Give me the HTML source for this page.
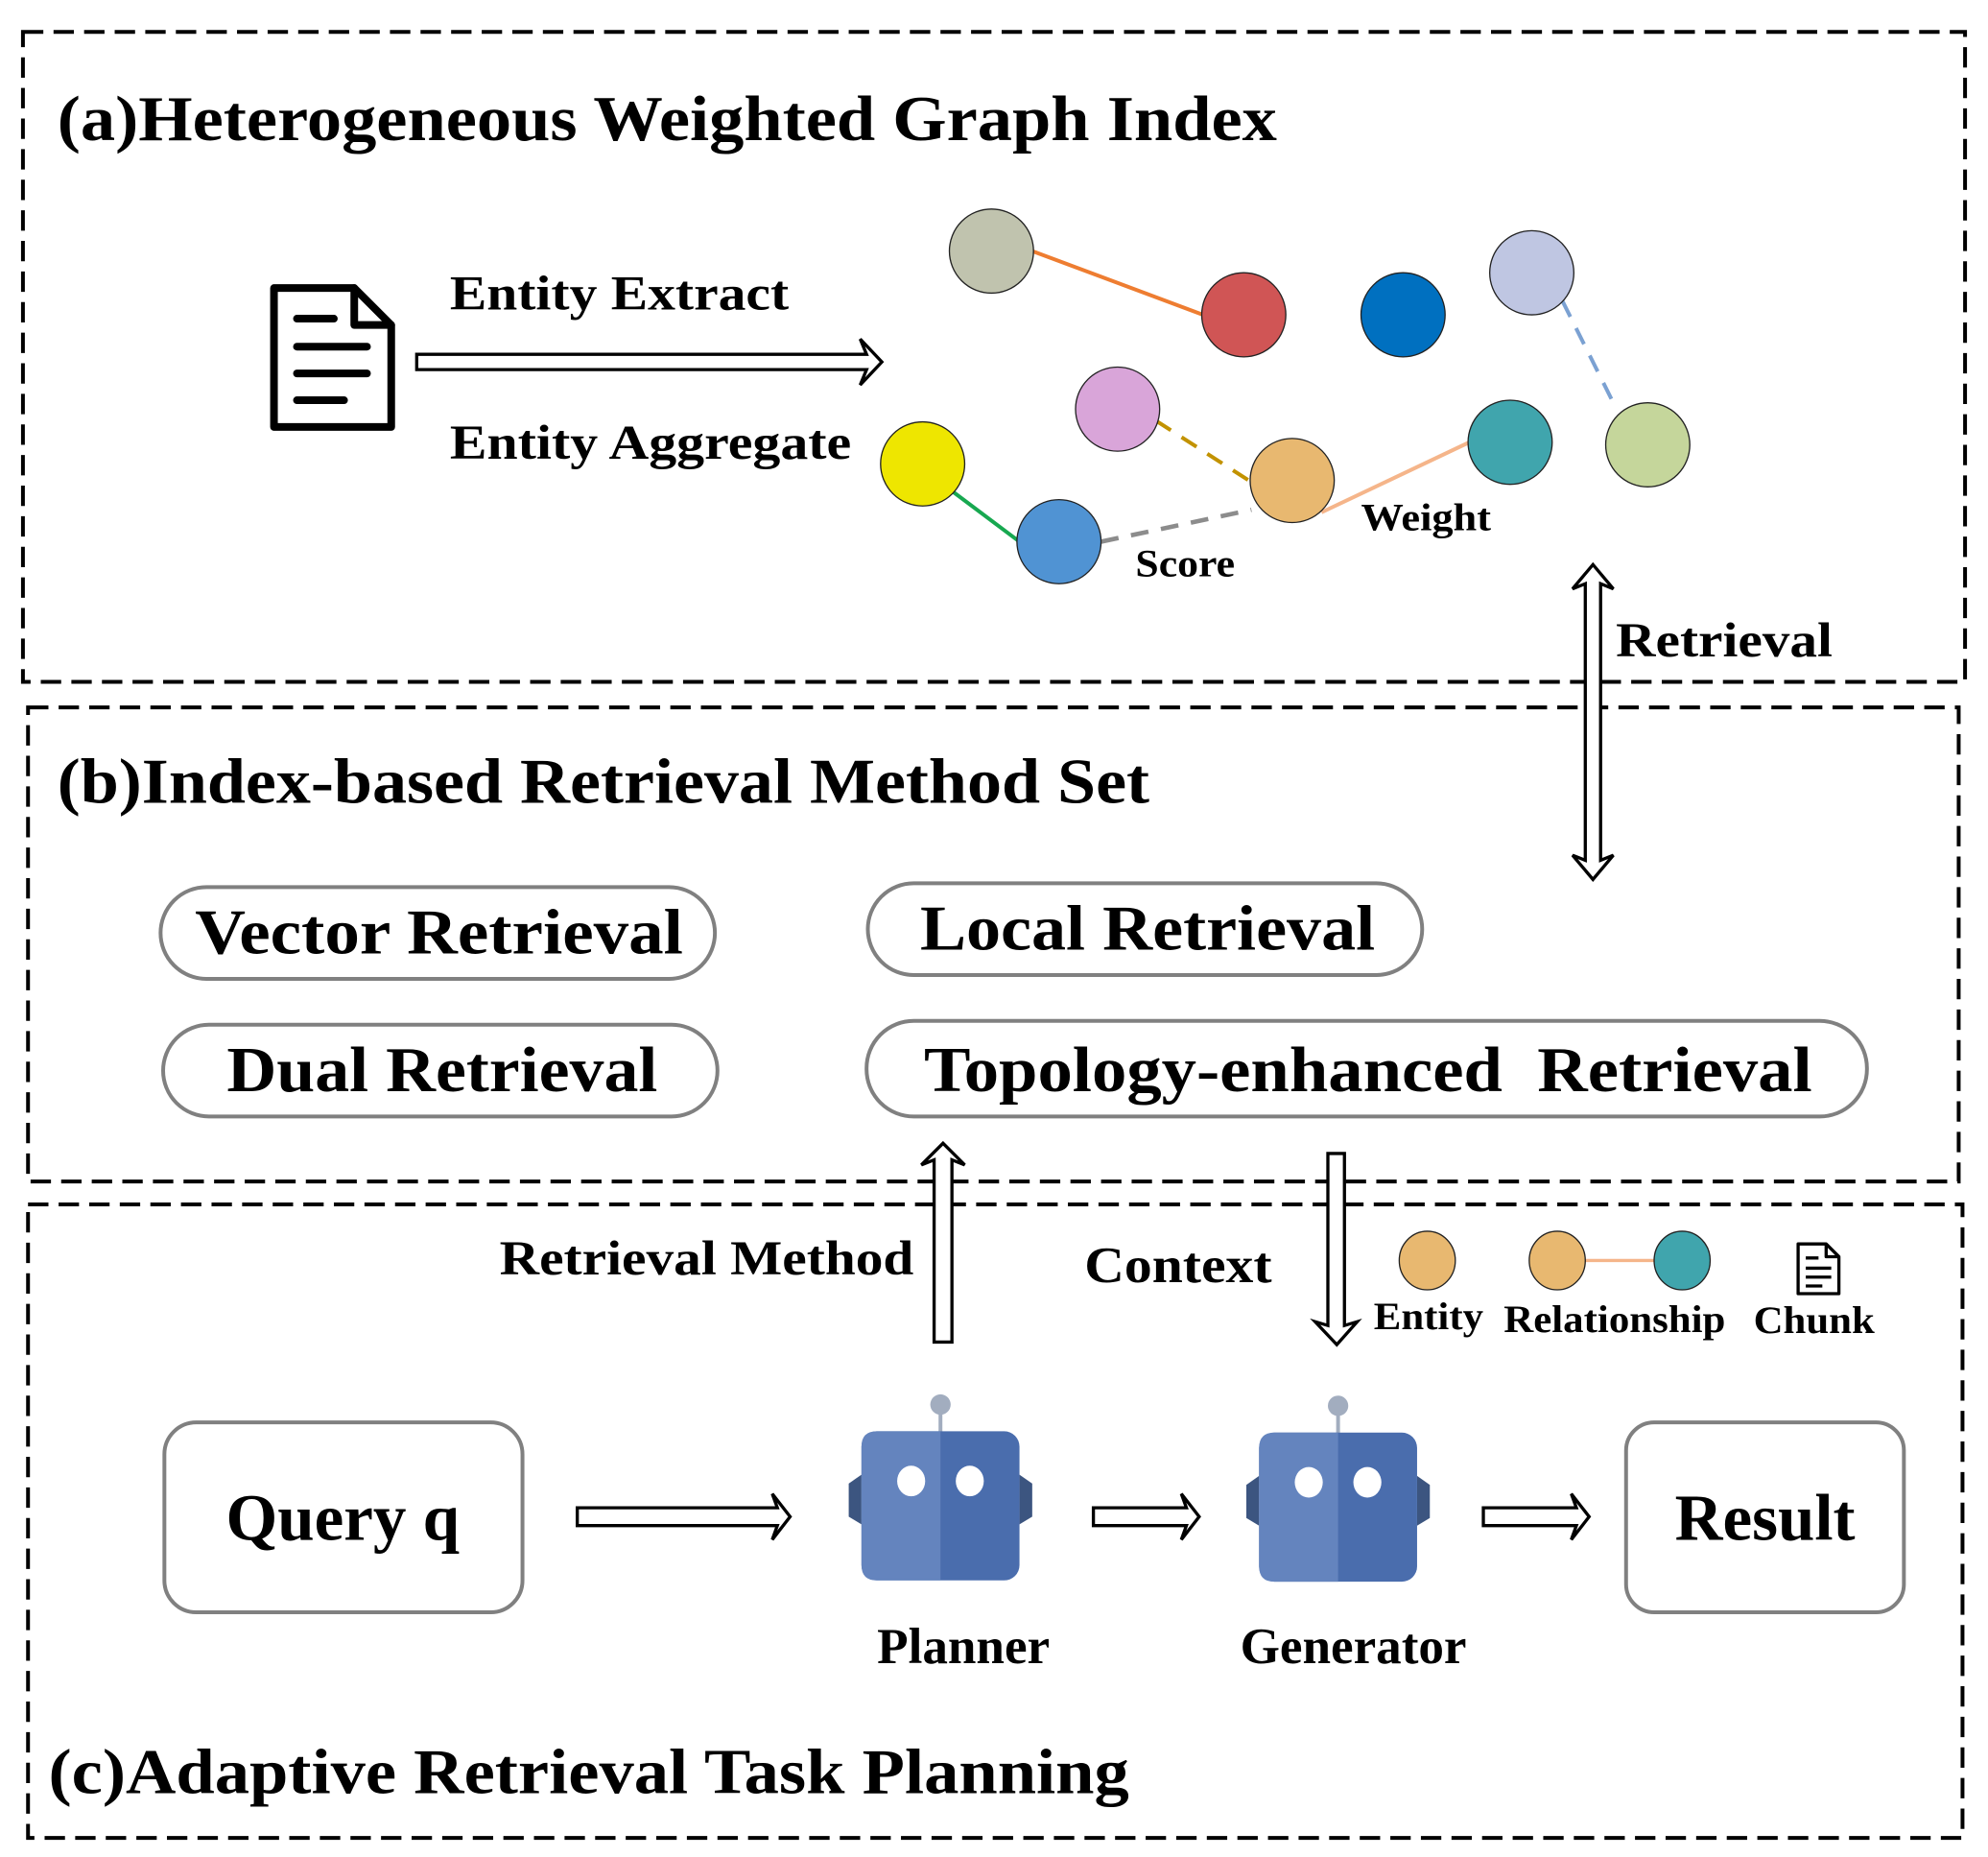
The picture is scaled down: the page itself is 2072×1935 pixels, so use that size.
<!DOCTYPE html>
<html><head><meta charset="utf-8"><style>
html,body{margin:0;padding:0;background:#fff}
svg{display:block}
text{font-family:"Liberation Serif",serif;font-weight:bold;fill:#000}
</style></head><body>
<svg width="2072" height="1935" viewBox="0 0 1560 1457" preserveAspectRatio="none" xmlns="http://www.w3.org/2000/svg">
<g fill="none" stroke="#000" stroke-width="3" stroke-dasharray="16,8">
<rect x="18" y="25" width="1524" height="510"/>
<rect x="22" y="555" width="1515" height="372"/>
<rect x="22" y="945" width="1518" height="497"/>
</g>
<text x="45" y="110" font-size="50" textLength="957" lengthAdjust="spacingAndGlyphs">(a)Heterogeneous Weighted Graph Index</text>
<text x="45" y="630" font-size="50" textLength="857" lengthAdjust="spacingAndGlyphs">(b)Index-based Retrieval Method Set</text>
<text x="38" y="1407" font-size="50" textLength="848" lengthAdjust="spacingAndGlyphs">(c)Adaptive Retrieval Task Planning</text>

<g fill="none" stroke="#000" stroke-width="6" stroke-linejoin="round" stroke-linecap="round">
<path d="M215 226 H278 L307 255 V335 H215 Z"/>
<path d="M278 226 V255 H307"/>
<path d="M233 250 H262 M233 272 H288 M233 293 H288 M233 314 H270"/>
</g>
<text x="353" y="243" font-size="38" textLength="266" lengthAdjust="spacingAndGlyphs">Entity Extract</text>
<text x="353" y="360" font-size="38" textLength="315" lengthAdjust="spacingAndGlyphs">Entity Aggregate</text>
<polygon points="327,278 680,278 675,266 692,284 675,302 680,290 327,290" fill="#fff" stroke="#000" stroke-width="2.5"/>

<line x1="810" y1="197" x2="944" y2="247" stroke="#EE7D31" stroke-width="3"/>
<line x1="1226" y1="236" x2="1268" y2="320" stroke="#7BA1D2" stroke-width="3" stroke-dasharray="14,10"/>
<line x1="907" y1="330" x2="980" y2="377" stroke="#C29200" stroke-width="3" stroke-dasharray="14,10"/>
<line x1="748" y1="386" x2="800" y2="425" stroke="#17A850" stroke-width="3"/>
<line x1="864" y1="425" x2="982" y2="400" stroke="#8C8C8C" stroke-width="3.5" stroke-dasharray="14,10"/>
<line x1="1037" y1="402" x2="1153" y2="347" stroke="#F5B58A" stroke-width="3"/>
<g stroke="#222" stroke-width="1">
<ellipse cx="778" cy="197" rx="33" ry="33" fill="#C0C3AE"/>
<ellipse cx="976" cy="247" rx="33" ry="33" fill="#D05555"/>
<ellipse cx="1101" cy="247" rx="33" ry="33" fill="#0070C0"/>
<ellipse cx="1202" cy="214" rx="33" ry="33" fill="#BFC6E2"/>
<ellipse cx="877" cy="321" rx="33" ry="33" fill="#D9A5D9"/>
<ellipse cx="724" cy="364" rx="33" ry="33" fill="#EEE600"/>
<ellipse cx="1014" cy="377" rx="33" ry="33" fill="#E8B870"/>
<ellipse cx="1185" cy="347" rx="33" ry="33" fill="#40A5AD"/>
<ellipse cx="1293" cy="349" rx="33" ry="33" fill="#C5D69B"/>
<ellipse cx="831" cy="425" rx="33" ry="33" fill="#5093D3"/>
</g>
<text x="1068" y="416" font-size="30" textLength="102" lengthAdjust="spacingAndGlyphs">Weight</text>
<text x="891" y="452" font-size="30" textLength="78" lengthAdjust="spacingAndGlyphs">Score</text>

<polygon points="1244,458 1234,462 1250,443 1266,462 1256,458 1256,675 1266,671 1250,690 1234,671 1244,675" fill="#fff" stroke="#000" stroke-width="2.5"/>
<text x="1268" y="515" font-size="38" textLength="170" lengthAdjust="spacingAndGlyphs">Retrieval</text>

<g fill="#fff" stroke="#808080" stroke-width="3">
<rect x="126" y="696" width="435" height="72" rx="36"/>
<rect x="681" y="693" width="435" height="72" rx="36"/>
<rect x="128" y="804" width="435" height="72" rx="36"/>
<rect x="680" y="801" width="785" height="75" rx="37"/>
</g>
<text x="153" y="748" font-size="50" textLength="383" lengthAdjust="spacingAndGlyphs">Vector Retrieval</text>
<text x="722" y="745" font-size="50" textLength="357" lengthAdjust="spacingAndGlyphs">Local Retrieval</text>
<text x="178" y="856" font-size="50" textLength="338" lengthAdjust="spacingAndGlyphs">Dual Retrieval</text>
<text x="725" y="856" font-size="50" textLength="697" lengthAdjust="spacingAndGlyphs" xml:space="preserve">Topology-enhanced  Retrieval</text>

<polygon points="733,1053 733,910 723,914 740,897 757,914 747,910 747,1053" fill="#fff" stroke="#000" stroke-width="2.5"/>
<polygon points="1042,905 1055,905 1055,1040 1065,1037 1049,1055 1032,1037 1042,1040" fill="#fff" stroke="#000" stroke-width="2.5"/>
<text x="392" y="1000" font-size="38" textLength="325" lengthAdjust="spacingAndGlyphs">Retrieval Method</text>
<text x="851" y="1006" font-size="40" textLength="147" lengthAdjust="spacingAndGlyphs">Context</text>

<line x1="1222" y1="989" x2="1320" y2="989" stroke="#F5B58A" stroke-width="2.5"/>
<g stroke="#222" stroke-width="1">
<ellipse cx="1120" cy="989" rx="22" ry="23" fill="#E8B870"/>
<ellipse cx="1222" cy="989" rx="22" ry="23" fill="#E8B870"/>
<ellipse cx="1320" cy="989" rx="22" ry="23" fill="#40A5AD"/>
</g>
<g fill="none" stroke="#000" stroke-width="2.5" stroke-linejoin="round">
<path d="M1411 976 H1433 L1443 986 V1015 H1411 Z"/>
<path d="M1433 976 V986 H1443 M1417 987 H1427 M1417 995 H1437 M1417 1002 H1437 M1417 1009 H1430"/>
</g>
<text x="1078" y="1043" font-size="30" textLength="86" lengthAdjust="spacingAndGlyphs">Entity</text>
<text x="1180" y="1045" font-size="30" textLength="174" lengthAdjust="spacingAndGlyphs">Relationship</text>
<text x="1376" y="1046" font-size="30" textLength="95" lengthAdjust="spacingAndGlyphs">Chunk</text>

<g fill="#fff" stroke="#808080" stroke-width="3">
<rect x="129" y="1116" width="281" height="149" rx="25"/>
<rect x="1276" y="1116" width="218" height="149" rx="22"/>
</g>
<text x="269" y="1208" font-size="52" text-anchor="middle">Query q</text>
<text x="1385" y="1208" font-size="52" text-anchor="middle">Result</text>
<polygon points="453,1183 610,1183 606,1172 620,1190 606,1208 610,1197 453,1197" fill="#fff" stroke="#000" stroke-width="2.5"/>
<polygon points="858,1183 931,1183 927,1172 941,1190 927,1208 931,1197 858,1197" fill="#fff" stroke="#000" stroke-width="2.5"/>
<polygon points="1164,1183 1237,1183 1233,1172 1247,1190 1233,1208 1237,1197 1164,1197" fill="#fff" stroke="#000" stroke-width="2.5"/>

<g id="r1">
<line x1="738" y1="1103" x2="738" y2="1124" stroke="#A2ADBF" stroke-width="3"/>
<circle cx="738" cy="1102" r="8" fill="#A2ADBF"/>
<polygon points="676,1157 666,1164 666,1190 676,1196" fill="#3C5580"/>
<polygon points="800,1157 810,1164 810,1190 800,1196" fill="#3C5580"/>
<rect x="676" y="1123" width="124" height="117" rx="12" fill="#4A6DAD"/>
<path d="M688 1123 H738 V1240 H688 Q676 1240 676 1228 V1135 Q676 1123 688 1123 Z" fill="#6484BE"/>
<ellipse cx="715" cy="1162" rx="11" ry="12" fill="#fff"/>
<ellipse cx="761" cy="1162" rx="11" ry="12" fill="#fff"/>
</g>
<use href="#r1" transform="translate(312,1)"/>
<text x="756" y="1305" font-size="40" text-anchor="middle">Planner</text>
<text x="1062" y="1305" font-size="40" text-anchor="middle">Generator</text>
</svg>
</body></html>
